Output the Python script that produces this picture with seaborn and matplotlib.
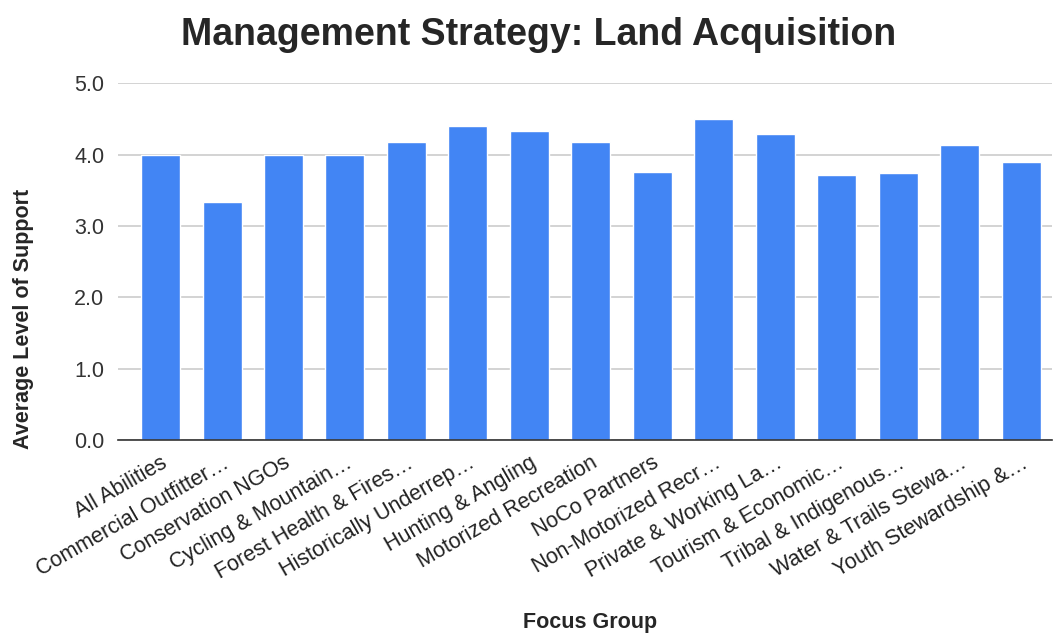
import numpy as np
import pandas as pd

import matplotlib
matplotlib.use('Agg')

import matplotlib.pyplot as plt
import seaborn as sns


# =========================================================
# DATA
# =========================================================

focus_groups = [
    'All Abilities',
    'Commercial Outfitter…',
    'Conservation NGOs',
    'Cycling & Mountain…',
    'Forest Health & Fires…',
    'Historically Underrep…',
    'Hunting & Angling',
    'Motorized Recreation',
    'NoCo Partners',
    'Non-Motorized Recr…',
    'Private & Working La…',
    'Tourism & Economic…',
    'Tribal & Indigenous…',
    'Water & Trails Stewa…',
    'Youth Stewardship &…'
]

support = [4.00, 3.33, 4.00, 4.00, 4.17, 4.40, 4.33, 4.17,
           3.76, 4.50, 4.29, 3.72, 3.74, 4.13, 3.89]

y_ticks = [0.0, 1.0, 2.0, 3.0, 4.0, 5.0]

df = pd.DataFrame({'Focus Group': focus_groups, 'Support': support})


# =========================================================
# STYLE
# =========================================================

sns.set_theme(style="white")
plt.rcParams['font.family'] = ['Liberation Sans', 'DejaVu Sans']

BAR_COLOR = "#4285F4"


# =========================================================
# FIGURE
# =========================================================

fig = plt.figure(figsize=(10.55, 6.35), dpi=100)
ax = fig.add_axes([0.112, 0.307, 0.885, 0.562])

sns.barplot(
    data=df,
    x='Focus Group',
    y='Support',
    color=BAR_COLOR,
    width=0.635,
    saturation=1,
    ax=ax
)

ax.set_ylim(0, 5)
ax.set_xlim(-0.69, len(focus_groups) - 0.5)
ax.set_yticks(y_ticks)
ax.set_yticklabels([f"{v:.1f}" for v in y_ticks], fontsize=15.5, color='#333333')

ax.yaxis.grid(True, color='#cccccc', linewidth=1.2)
ax.set_axisbelow(True)

for side in ['top', 'right', 'left']:
    ax.spines[side].set_visible(False)
ax.spines['bottom'].set_color('#333333')
ax.spines['bottom'].set_linewidth(1.2)

ax.tick_params(axis='both', length=0)
ax.tick_params(axis='y', pad=10)
ax.tick_params(axis='x', pad=9)

plt.setp(
    ax.get_xticklabels(),
    rotation=30,
    ha='right',
    rotation_mode='anchor',
    fontsize=15.5,
    color='#222222'
)

ax.set_xlabel("Focus Group", fontsize=15.5, fontweight='bold')
ax.set_ylabel("Average Level of Support", fontsize=15.5, fontweight='bold')
ax.xaxis.set_label_coords(0.505, -0.482)
ax.yaxis.set_label_coords(-0.09, 0.339)

fig.suptitle(
    "Management Strategy: Land Acquisition",
    fontsize=27,
    fontweight='bold',
    x=0.511,
    y=0.974
)

plt.savefig("out.png", dpi=100)
plt.close()
